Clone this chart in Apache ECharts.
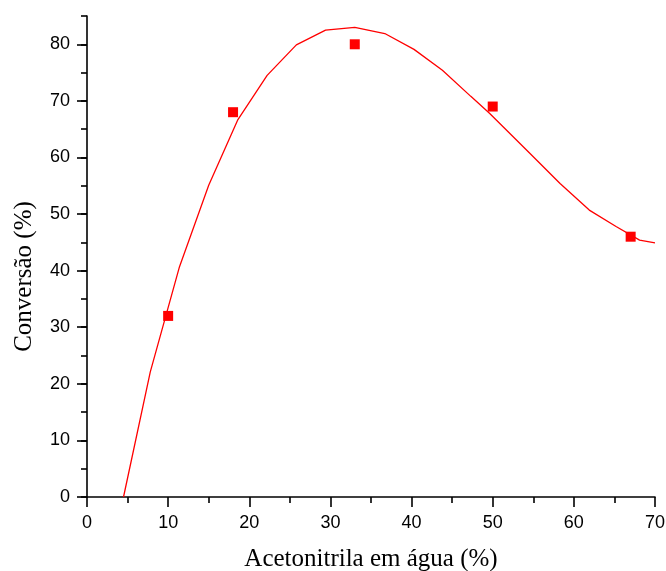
<!DOCTYPE html>
<html>
<head>
<meta charset="utf-8">
<script src="https://cdn.jsdelivr.net/npm/echarts@6/dist/echarts.min.js"></script>
<style>
  html, body { margin: 0; padding: 0; background: #fff; }
  #chart { width: 666px; height: 571px; }
</style>
</head>
<body>
<div id="chart"></div>
<script>
// Measured conversion at each acetonitrile fraction
const measuredX = [10, 18, 33, 50, 67];
const measuredY = [32, 68, 80, 69, 46];

// Fitted curve (vertices of the fit line)
const fitX = [4.5, 7.8, 11.4, 15.0, 18.6, 22.2, 25.8, 29.4, 33.0, 36.7, 40.3, 43.8, 47.3, 49.6, 54.6, 58.3, 61.9, 65.2, 68.1, 70.0];
const fitY = [0, 22.1, 40.7, 55.1, 66.7, 74.5, 79.9, 82.5, 83.0, 81.9, 79.1, 75.4, 70.8, 67.8, 60.7, 55.4, 50.7, 47.8, 45.4, 44.9];

// Labelled (major) ticks on the conversion axis
const yMajorTicks = [0, 10, 20, 30, 40, 50, 60, 70, 80];

const xTitle = 'Acetonitrila em água (%)';
const yTitle = 'Conversão (%)';

const pairs = (xs, ys) => xs.map((x, i) => [x, ys[i]]);

const black = { color: '#000', width: 1.6 };
const labelFont = { fontFamily: 'Liberation Sans', fontSize: 18, color: '#000' };
const titleFont = { fontFamily: 'Liberation Serif', fontSize: 25, color: '#000' };

const chart = echarts.init(document.getElementById('chart'), null, { renderer: 'canvas' });
chart.setOption({
  animation: false,
  backgroundColor: '#fff',
  grid: { left: 87, right: 11, top: 16, bottom: 74, containLabel: false, outerBoundsMode: 'none' },
  xAxis: {
    type: 'value',
    min: 0, max: 70, interval: 10,
    name: xTitle,
    nameLocation: 'middle',
    nameGap: 50,
    nameTextStyle: titleFont,
    axisLine: { show: true, onZero: false, lineStyle: black },
    splitLine: { show: false },
    axisTick: { show: true, inside: false, length: 10, lineStyle: black },
    minorTick: { show: true, splitNumber: 2, length: 6, lineStyle: black },
    axisLabel: Object.assign({ margin: 17 }, labelFont)
  },
  yAxis: [
    {
      type: 'value',
      min: 0, max: 85, interval: 5,
      name: yTitle,
      nameLocation: 'middle',
      nameGap: 50,
      nameTextStyle: Object.assign({ padding: [0, 40, 0, 0] }, titleFont),
      axisLine: { show: true, onZero: false, lineStyle: black },
      splitLine: { show: false },
      axisTick: { show: true, inside: false, length: 10, lineStyle: black, customValues: yMajorTicks },
      axisLabel: Object.assign({ margin: 17, customValues: yMajorTicks }, labelFont)
    },
    {
      // short ticks every 5 units, sharing the same scale
      type: 'value',
      position: 'left',
      min: 0, max: 85, interval: 5,
      axisLine: { show: false },
      splitLine: { show: false },
      axisTick: { show: true, inside: false, length: 6, lineStyle: black },
      axisLabel: { show: false }
    }
  ],
  series: [
    {
      type: 'line',
      data: pairs(fitX, fitY),
      showSymbol: false,
      smooth: false,
      lineStyle: { color: '#ff0000', width: 1.3 },
      z: 2
    },
    {
      type: 'scatter',
      data: pairs(measuredX, measuredY),
      symbol: 'rect',
      symbolSize: 10,
      itemStyle: { color: '#ff0000', opacity: 1 },
      z: 3
    }
  ]
});
</script>
</body>
</html>
